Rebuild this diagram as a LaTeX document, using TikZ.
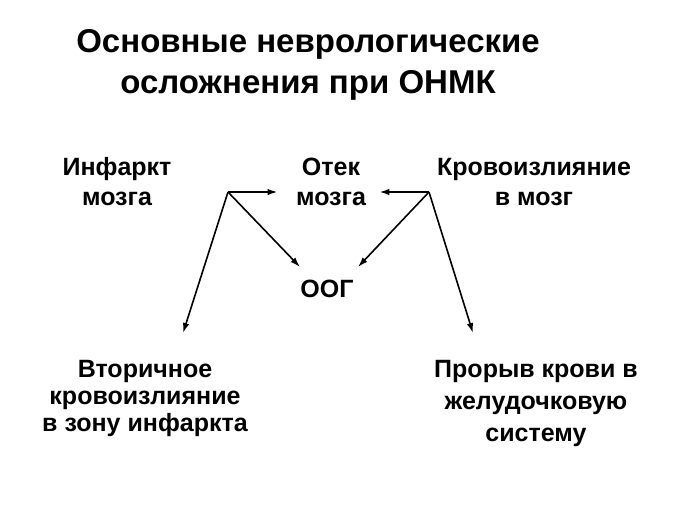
\documentclass[tikz,border=0pt]{standalone}
\usepackage{fontspec}
\setmainfont{Liberation Sans}
\usetikzlibrary{arrows.meta}
\begin{document}
\begin{tikzpicture}[x=1pt,y=-1pt,
    lbl/.style={align=center,anchor=base,font=\bfseries\fontsize{25}{30}\selectfont},
    arr/.style={-{Latex[length=10pt,width=6.5pt]},line width=1.6pt}]
  \useasboundingbox (0,0) rectangle (683,504);
  % title (base = baseline of the last line)
  \node[align=center,anchor=base,font=\bfseries\fontsize{33}{41}\selectfont] (title) at (308,93)
    {Основные неврологические\\осложнения при ОНМК};
  % causes and complications
  \node[lbl] (infarct) at (117,205) {Инфаркт\\мозга};
  \node[lbl] (otek) at (331,205) {Отек\\мозга};
  \node[lbl] (krov) at (534,205) {Кровоизлияние\\в мозг};
  \node[lbl] (oog) at (327,297) {ООГ};
  \node[lbl,font=\bfseries\fontsize{25}{27}\selectfont] (vtor) at (145,431)
    {Вторичное\\кровоизлияние\\в зону инфаркта};
  \node[lbl,font=\bfseries\fontsize{25}{32}\selectfont] (proryv) at (536,441)
    {Прорыв крови в\\желудочковую\\систему};
  % fork points of the arrows
  \coordinate (lfork) at (228,192);
  \coordinate (rfork) at (429,192);
  \draw[arr,shorten >=15pt] (lfork) -- (lfork -| otek.west);
  \draw[arr] (lfork) -- ([xshift=-27pt,yshift=30pt]oog.base);
  \draw[arr] (lfork) -- ([xshift=38pt,yshift=98pt]vtor.base);
  \draw[arr,shorten >=10pt] (rfork) -- (rfork -| otek.east);
  \draw[arr] (rfork) -- ([xshift=31pt,yshift=30pt]oog.base);
  \draw[arr] (rfork) -- ([xshift=-63pt,yshift=108pt]proryv.base);
\end{tikzpicture}
\end{document}
